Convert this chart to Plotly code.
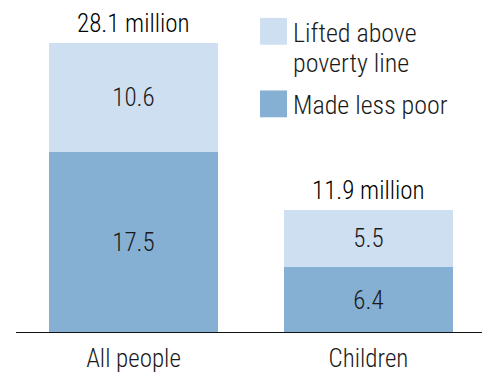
import plotly.graph_objects as go

categories = ["All people", "Children"]
made_less_poor = [17.5, 6.4]
lifted_above = [10.6, 5.5]
totals_text = ["28.1 million", "11.9 million"]
series_names = ["Lifted above poverty line", "Made less poor"]
legend_lines = [["Lifted above", "poverty line"], ["Made less poor"]]

LIGHT = "#cddff0"
DARK = "#86b0d3"
INK = "#1a1a1a"
FONT = "Roboto Condensed, Roboto, sans-serif"
WT = 300
W, H = 482, 373
B = 38
PH = H - B

def px(x):
    return x / W

def py(y):
    return 1 - y / PH

fig = go.Figure()
fig.add_bar(x=categories, y=made_less_poor, name=series_names[1], marker_color=DARK, width=0.72,
            text=[f"{v}" for v in made_less_poor], textposition="inside",
            insidetextanchor="middle", textangle=0,
            textfont=dict(size=25, color=INK, family=FONT, weight=WT),
            marker_line_width=0, showlegend=False)
fig.add_bar(x=categories, y=lifted_above, name=series_names[0], marker_color=LIGHT, width=0.72,
            text=[f"{v}" for v in lifted_above], textposition="inside",
            insidetextanchor="middle", textangle=0,
            textfont=dict(size=25, color=INK, family=FONT, weight=WT),
            marker_line_width=0, showlegend=False)

totals = [a + b for a, b in zip(made_less_poor, lifted_above)]
for c, t, s in zip(categories, totals, totals_text):
    fig.add_annotation(x=c, y=t, text=s, showarrow=False, yanchor="bottom",
                       yshift=3, font=dict(size=25, color="#000", family=FONT, weight=WT))

# baseline
fig.add_shape(type="line", xref="paper", yref="y", x0=px(16), x1=1, y0=0, y1=0,
              line=dict(color="#111", width=2))

# legend
swatch_tops = [18, 91]
line_centers = [[33, 63], [106]]
for color, top, lines, centers in zip([LIGHT, DARK], swatch_tops, legend_lines, line_centers):
    fig.add_shape(type="rect", xref="paper", yref="paper", x0=px(260), x1=px(287),
                  y0=py(top + 27), y1=py(top), fillcolor=color, line_width=0)
    for ln, cy in zip(lines, centers):
        fig.add_annotation(xref="paper", yref="paper", x=px(291), y=py(cy), text=ln,
                           showarrow=False, xanchor="left", yanchor="middle", align="left",
                           font=dict(size=26, color=INK, family=FONT, weight=WT))

fig.update_layout(
    width=W, height=H, margin=dict(l=0, r=0, t=0, b=B),
    plot_bgcolor="white", paper_bgcolor="white", barmode="stack", bargap=0,
    font=dict(family=FONT, color=INK),
    uniformtext=dict(minsize=25, mode="show"),
    xaxis=dict(range=[-0.568, 1.483], showgrid=False, zeroline=False, showline=False,
               ticks="", ticklabelstandoff=8,
               tickfont=dict(size=25, family=FONT, color=INK, weight=WT)),
    yaxis=dict(range=[0, 32.24], visible=False),
)
fig.write_html("out.html")
